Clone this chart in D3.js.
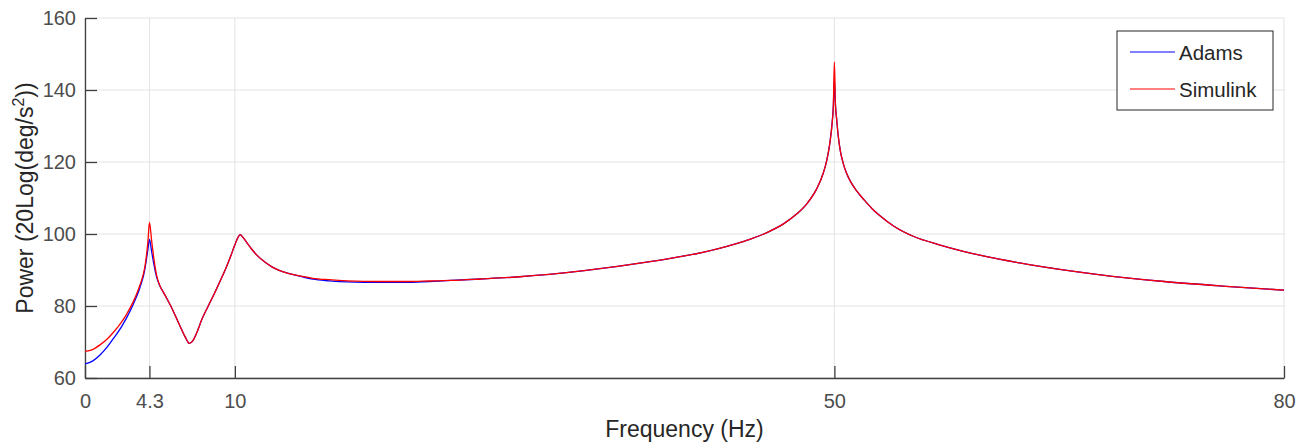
<!DOCTYPE html>
<html>
<head>
<meta charset="utf-8">
<script src="https://cdn.jsdelivr.net/npm/d3@7"></script>
<style>
    body { margin: 0; background: #fff; }
    svg { display: block; font-family: "Liberation Sans", Arial, sans-serif; }
    .axis-label { fill: #262626; font-size: 23px; }
    .legend-text { fill: #262626; font-size: 20.5px; }
</style>
</head>
<body>
<svg id="chart" width="1309" height="446"></svg>
<script>
const freq = [0, 0.5, 1.0, 1.5, 1.9, 2.4, 2.8, 3.2, 3.6, 3.75, 3.9, 4.0, 4.1, 4.2, 4.3,
    4.45, 4.6, 4.78, 4.96, 5.3, 5.7, 6.3, 6.7, 6.95, 7.2, 7.5, 7.8, 8.2, 8.6, 9.0, 9.4, 9.7,
    10.0, 10.2, 10.35, 10.55, 10.8, 11.1, 11.5, 12.0, 12.5, 13.0, 13.7, 14.5, 15.2, 16.3, 17.5,
    19.7, 21.5, 23.0, 24.4, 26.4, 28.8, 33.3, 37.7, 40.0, 42.2, 44.4, 45.5, 46.6, 47.5, 48.2,
    48.8, 49.25, 49.5, 49.7, 49.85, 49.93, 50.0, 50.07, 50.15, 50.25, 50.4, 50.6, 50.8, 51.1,
    51.5, 52.0, 52.5, 53.0, 54.0, 55.3, 57.0, 58.6, 61.0, 63.0, 67.5, 72.0, 76.4, 80];

const simulink = [67.4, 67.9, 69.2, 70.9, 72.7, 75.3, 77.9, 81.0, 85.0, 86.8, 89.0, 91.0, 94.0, 98.0, 103.2,
    98.0, 93.0, 88.5, 86.0, 83.3, 80.2, 74.8, 71.3, 69.6, 70.4, 73.0, 76.3, 79.8, 83.2, 86.8, 90.5, 93.6,
    97.0, 99.0, 99.8, 99.0, 97.6, 95.9, 94.0, 92.2, 90.8, 89.8, 88.9, 88.2, 87.7, 87.3, 87.0,
    86.8, 86.8, 86.95, 87.1, 87.5, 88.05, 89.8, 92.3, 93.9, 95.9, 98.6, 100.4, 102.8, 105.6, 108.6,
    112.4, 116.8, 120.6, 125.3, 130.8, 135.5, 147.8, 136.0, 132.0, 127.5, 123.0, 119.5, 117.0, 114.4,
    111.9, 109.4, 107.1, 105.2, 102.1, 99.3, 97.0, 95.2, 93.0, 91.5, 88.8, 86.8, 85.4, 84.4];

const adams = [63.9, 64.7, 66.4, 68.7, 71.0, 74.0, 76.9, 80.3, 84.3, 86.2, 88.4, 90.4, 93.0, 95.8, 98.5,
    95.0, 91.5, 88.0, 85.9, 83.3, 80.2, 74.8, 71.3, 69.6, 70.4, 73.0, 76.3, 79.8, 83.2, 86.8, 90.5, 93.6,
    97.0, 99.0, 99.8, 99.0, 97.6, 95.9, 94.0, 92.2, 90.8, 89.8, 88.9, 88.1, 87.45, 87.0, 86.7,
    86.55, 86.6, 86.8, 87.1, 87.5, 88.05, 89.8, 92.3, 93.9, 95.9, 98.6, 100.4, 102.8, 105.6, 108.6,
    112.4, 116.8, 120.6, 125.3, 130.8, 135.5, 143.0, 136.0, 132.0, 127.5, 123.0, 119.5, 117.0, 114.4,
    111.9, 109.4, 107.1, 105.2, 102.1, 99.3, 97.0, 95.2, 93.0, 91.5, 88.8, 86.8, 85.4, 84.4];

const xTickValues = [0, 4.3, 10, 50, 80];
const yTickValues = [60, 80, 100, 120, 140, 160];
const seriesNames = ["Adams", "Simulink"];
const seriesColors = ["#0000ff", "#ff0000"];

const svg = d3.select("#chart");
const margin = { top: 18, right: 25, bottom: 68, left: 85 };
const width = +svg.attr("width");
const height = +svg.attr("height");
const innerWidth = width - margin.left - margin.right;
const innerHeight = height - margin.top - margin.bottom;

const xScale = d3.scaleLinear().domain([0, 80]).range([0, innerWidth]);
const yScale = d3.scaleLinear().domain([60, 160]).range([innerHeight, 0]);

const g = svg.append("g")
    .attr("transform", `translate(${margin.left},${margin.top})`);

// grid
g.append("g").selectAll("line").data(xTickValues).enter().append("line")
    .attr("x1", d => xScale(d)).attr("x2", d => xScale(d))
    .attr("y1", 0).attr("y2", innerHeight)
    .attr("stroke", "#e3e3e3");
g.append("g").selectAll("line").data(yTickValues).enter().append("line")
    .attr("y1", d => yScale(d)).attr("y2", d => yScale(d))
    .attr("x1", 0).attr("x2", innerWidth)
    .attr("stroke", "#e3e3e3");

// axes, ticks pointing inward
const xAxis = d3.axisBottom(xScale)
    .tickValues(xTickValues)
    .tickSizeInner(-12)
    .tickSizeOuter(0)
    .tickPadding(16)
    .tickFormat(d => d);
const xAxisG = g.append("g")
    .attr("transform", `translate(0,${innerHeight})`)
    .call(xAxis);

const yAxis = d3.axisLeft(yScale)
    .tickValues(yTickValues)
    .tickSizeInner(-12)
    .tickSizeOuter(0)
    .tickPadding(9);
const yAxisG = g.append("g").call(yAxis);

[xAxisG, yAxisG].forEach(a => {
    a.attr("font-family", null).attr("font-size", null);
    a.select(".domain").attr("stroke", "#404040").attr("stroke-width", 1.3);
    a.selectAll(".tick line").attr("stroke", "#404040").attr("stroke-width", 1.3);
    a.selectAll(".tick text").attr("fill", "#4d4d4d").style("font-size", "20px");
});

// lines
const line = values => d3.line()
    .x((d, i) => xScale(freq[i]))
    .y(d => yScale(d))
    .curve(d3.curveMonotoneX)(values);

[adams, simulink].forEach((values, i) => {
    g.append("path")
        .attr("d", line(values))
        .attr("fill", "none")
        .attr("stroke", seriesColors[i])
        .attr("stroke-width", 1.3);
});

// axis labels
svg.append("text")
    .attr("class", "axis-label")
    .attr("x", margin.left + innerWidth / 2)
    .attr("y", 437)
    .attr("text-anchor", "middle")
    .text("Frequency (Hz)");

const yLabel = svg.append("text")
    .attr("class", "axis-label")
    .attr("transform", `translate(33,${margin.top + innerHeight / 2}) rotate(-90)`)
    .attr("text-anchor", "middle");
yLabel.append("tspan").text("Power (20Log(deg/s");
yLabel.append("tspan").attr("dy", -9).style("font-size", "16px").text("2");
yLabel.append("tspan").attr("dy", 9).text("))");

// legend
const legend = svg.append("g");
legend.append("rect")
    .attr("x", 1117).attr("y", 31)
    .attr("width", 156).attr("height", 79)
    .attr("fill", "#fff")
    .attr("stroke", "#262626")
    .attr("stroke-width", 1);
seriesNames.forEach((name, i) => {
    const y = 52 + i * 37;
    legend.append("line")
        .attr("x1", 1130).attr("x2", 1175)
        .attr("y1", y).attr("y2", y)
        .attr("stroke", seriesColors[i])
        .attr("stroke-width", 1);
    legend.append("text")
        .attr("class", "legend-text")
        .attr("x", 1179).attr("y", y + 7.5)
        .text(name);
});
</script>
</body>
</html>
